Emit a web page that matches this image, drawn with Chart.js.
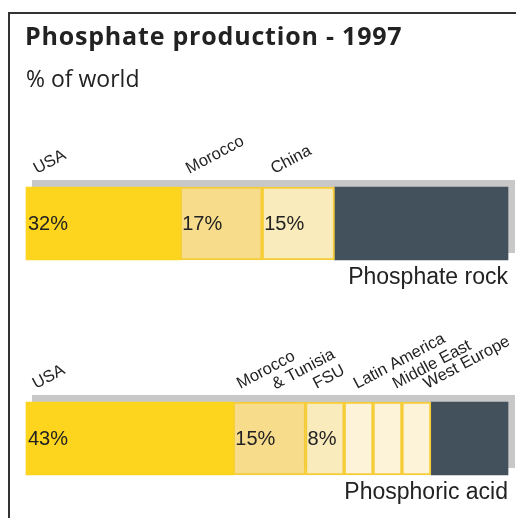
<!DOCTYPE html>
<html>
<head>
<meta charset="utf-8">
<script src="https://cdn.jsdelivr.net/npm/chart.js@4.4.1/dist/chart.umd.min.js"></script>
<style>
  html, body { margin: 0; padding: 0; background: #fff; }
  canvas { display: block; }
</style>
</head>
<body>
<canvas id="myChart" width="516" height="518"></canvas>
<script>
// data (% of world production, 1997)
const products = ['Phosphate rock', 'Phosphoric acid'];
const rockCountries = ['USA', 'Morocco', 'China'];
const rockShares = [32, 17, 15];
const acidCountries = ['USA', 'Morocco\n& Tunisia', 'FSU', 'Latin America', 'Middle East', 'West Europe'];
const acidShares = [43, 15, 8, 6, 6, 6];

const rankColors = ['#FDD41E', '#F7DC8C', '#F9EBBB', '#FDF3D9', '#FDF3D9', '#FDF3D9'];
const restColor = '#42515B';
const edgeColor = '#F6CD36';

const sum = arr => arr.reduce((a, b) => a + b, 0);

// one dataset per rank position, plus the rest of the world
const datasets = [];
for (let i = 0; i < acidShares.length; i++) {
  datasets.push({
    label: 'rank ' + (i + 1),
    data: [rockShares[i] ?? null, acidShares[i] ?? null],
    backgroundColor: rankColors[i],
    borderColor: edgeColor,
    borderWidth: i === 0 ? 0 : 2,
    borderSkipped: false
  });
}
datasets.push({
  label: 'rest of world',
  data: [100 - sum(rockShares), 100 - sum(acidShares)],
  backgroundColor: restColor,
  borderWidth: 0
});

const namesPerBar = [rockCountries, acidCountries];
// small sideways nudges so the slanted names don't collide
const nameNudge = [[11, 9, 12], [10, 7, 11, 13, 23, 25]];

const decorPlugin = {
  id: 'decor',
  beforeDraw(chart) {
    const ctx = chart.ctx;
    ctx.save();
    ctx.fillStyle = '#fff';
    ctx.fillRect(0, 0, chart.width, chart.height);
    // frame
    ctx.strokeStyle = '#333';
    ctx.lineWidth = 2;
    ctx.beginPath();
    ctx.moveTo(9, chart.height);
    ctx.lineTo(9, 13);
    ctx.lineTo(chart.width, 13);
    ctx.stroke();
    // titles
    ctx.fillStyle = '#222';
    ctx.textBaseline = 'alphabetic';
    ctx.font = 'bold 25px "Open Sans"';
    ctx.letterSpacing = '0.8px';
    ctx.fillText('Phosphate production - 1997', 25, 45);
    ctx.letterSpacing = '0px';
    ctx.font = '23px "Open Sans"';
    ctx.fillText('% of world', 26, 87);
    ctx.restore();
  },
  beforeDatasetsDraw(chart) {
    // grey drop shadow behind each bar
    const ctx = chart.ctx;
    const xs = chart.scales.x;
    const meta = chart.getDatasetMeta(0);
    ctx.save();
    ctx.fillStyle = '#C8C8C8';
    meta.data.forEach(bar => {
      const top = bar.y - bar.height / 2;
      const left = xs.getPixelForValue(0) + 6;
      const right = xs.getPixelForValue(100) + 7;
      ctx.fillRect(left, top - 7, right - left, bar.height);
    });
    ctx.restore();
  },
  afterDatasetsDraw(chart) {
    const ctx = chart.ctx;
    ctx.save();
    ctx.fillStyle = '#222';
    products.forEach((product, j) => {
      const names = namesPerBar[j];
      let barTop = 0, barBottom = 0, barRight = 0;
      for (let i = 0; i < chart.data.datasets.length; i++) {
        const value = chart.data.datasets[i].data[j];
        if (value === null) continue;
        const bar = chart.getDatasetMeta(i).data[j];
        const left = Math.min(bar.x, bar.base);
        barTop = bar.y - bar.height / 2;
        barBottom = bar.y + bar.height / 2;
        barRight = Math.max(barRight, bar.x, bar.base);
        if (i >= names.length) continue;
        // value inside the segment
        if (value >= 8) {
          ctx.font = '20px "Liberation Sans"';
          ctx.textAlign = 'left';
          ctx.textBaseline = 'middle';
          ctx.fillText(value + '%', left + 2, bar.y + 1);
        }
        // slanted country name above
        ctx.save();
        ctx.translate(left + nameNudge[j][i], barTop - 13);
        ctx.rotate(-28 * Math.PI / 180);
        ctx.font = '16.5px "Liberation Sans"';
        ctx.textAlign = 'left';
        ctx.textBaseline = 'alphabetic';
        names[i].split('\n').forEach((line, k) => {
          ctx.fillText(line, k * 31, k * 17);
        });
        ctx.restore();
      }
      // product name under the bar
      ctx.font = '23px "Liberation Sans"';
      ctx.textAlign = 'right';
      ctx.textBaseline = 'alphabetic';
      ctx.fillText(product, barRight, barBottom + 24);
    });
    ctx.restore();
  }
};

new Chart(document.getElementById('myChart'), {
  type: 'bar',
  data: { labels: products, datasets: datasets },
  options: {
    indexAxis: 'y',
    responsive: false,
    animation: false,
    layout: { padding: { left: 26, right: 8, top: 223.5, bottom: 79.5 } },
    datasets: { bar: { barThickness: 73, clip: false } },
    scales: {
      x: { stacked: true, min: 0, max: 100, display: false },
      y: { stacked: true, offset: false, display: false }
    },
    plugins: {
      legend: { display: false },
      tooltip: { enabled: false }
    }
  },
  plugins: [decorPlugin]
});
</script>
</body>
</html>
